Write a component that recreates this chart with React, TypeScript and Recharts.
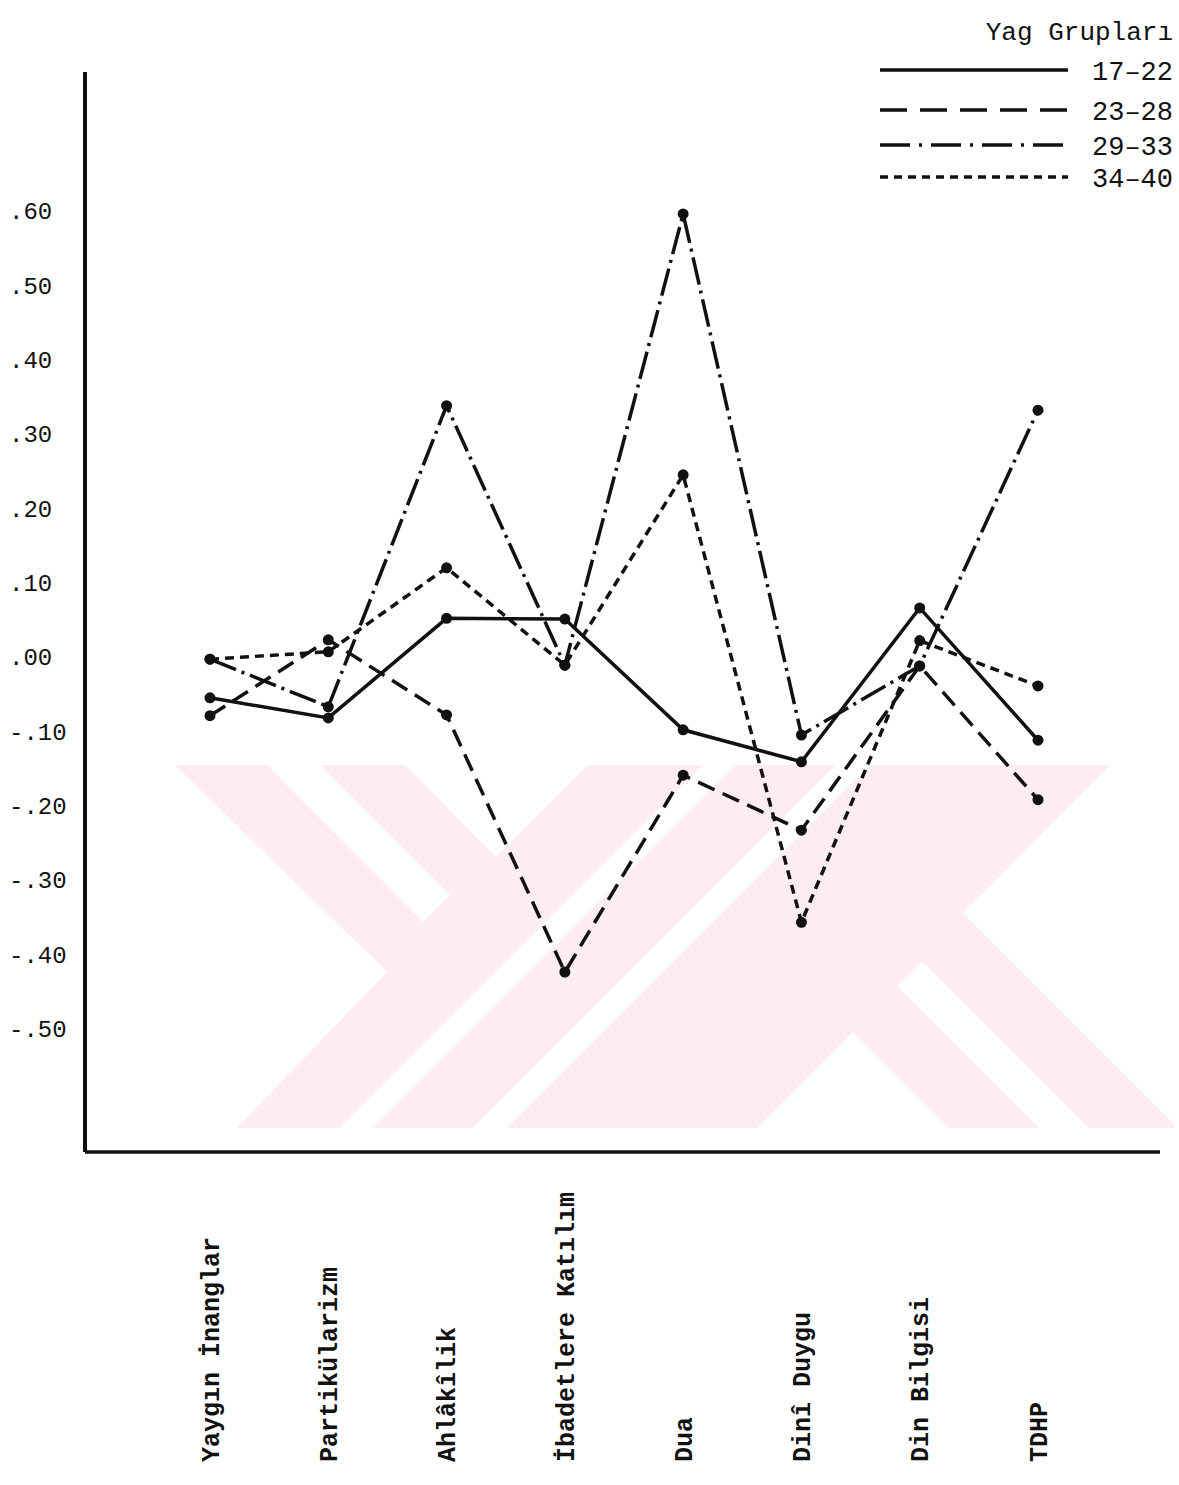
import React from 'react';
import { LineChart, Line, XAxis, YAxis } from 'recharts';

// categories (x axis, rotated)
const categories = [
  'Yaygın İnanglar',
  'Partikülarizm',
  'Ahlâkîlik',
  'İbadetlere Katılım',
  'Dua',
  'Dinî Duygu',
  'Din Bilgisi',
  'TDHP',
];

// one array per age group
const g17_22 = [-0.055, -0.082, 0.052, 0.051, -0.098, -0.141, 0.066, -0.112];
const g23_28 = [-0.079, 0.023, -0.078, -0.424, -0.159, -0.233, -0.012, -0.192];
const g29_33 = [-0.003, -0.067, 0.338, -0.011, 0.596, -0.105, -0.012, 0.332];
const g34_40 = [-0.003, 0.007, 0.12, -0.011, 0.245, -0.357, 0.022, -0.039];

const yTicks = [0.6, 0.5, 0.4, 0.3, 0.2, 0.1, 0, -0.1, -0.2, -0.3, -0.4, -0.5];
const yTickLabels = ['.60', '.50', '.40', '.30', '.20', '.10', '.00', '-.10', '-.20', '-.30', '-.40', '-.50'];

const legendTitle = 'Yag Grupları';

const series = [
  { key: 'g17_22', name: '17–22', values: g17_22, dash: undefined, legendDash: undefined },
  { key: 'g23_28', name: '23–28', values: g23_28, dash: '18 9', legendDash: '27 13' },
  { key: 'g29_33', name: '29–33', values: g29_33, dash: '28 6 3 6', legendDash: '30 9 3 9' },
  { key: 'g34_40', name: '34–40', values: g34_40, dash: '9 6', legendDash: '8 6' },
];

const data = categories.map((c, i) => {
  const row: Record<string, string | number> = { name: c };
  series.forEach((s) => {
    row[s.key] = s.values[i];
  });
  return row;
});

const FONT = '"Liberation Mono", "DejaVu Sans Mono", monospace';
const INK = '#111';

function XTick(props: any) {
  const { x, payload } = props;
  const y = 1462;
  return (
    <text
      x={x}
      y={y}
      dy="0.35em"
      transform={`rotate(-90, ${x}, ${y})`}
      textAnchor="start"
      fontFamily={FONT}
      fontSize={25}
      fontWeight="bold"
      fill={INK}
    >
      {payload.value}
    </text>
  );
}

function YTick(props: any) {
  const { y, payload } = props;
  const idx = yTicks.indexOf(payload.value);
  return (
    <text x={9} y={y} dy="0.35em" textAnchor="start" fontFamily={FONT} fontSize={24} fill={INK}>
      {idx >= 0 ? yTickLabels[idx] : ''}
    </text>
  );
}

function LegendBox() {
  const rowY = [70, 110, 145, 177];
  return (
    <svg width={1179} height={200} style={{ position: 'absolute', left: 0, top: 0 }}>
      <text x={1173} y={40} textAnchor="end" fontFamily={FONT} fontSize={26} fill={INK}>
        {legendTitle}
      </text>
      {series.map((s, i) => (
        <g key={s.key}>
          <line
            x1={880}
            x2={1068}
            y1={rowY[i]}
            y2={rowY[i]}
            stroke={INK}
            strokeWidth={3.5}
            strokeDasharray={s.legendDash}
          />
          <text x={1173} y={rowY[i] + 10} textAnchor="end" fontFamily={FONT} fontSize={27} fill={INK}>
            {s.name}
          </text>
        </g>
      ))}
    </svg>
  );
}

// faint pink watermark behind the chart
function Watermark() {
  const pink = 'rgb(253,236,240)';
  const cut = [
    '170,765 175,765 387,972 237,1128 170,1128',
    '267,765 320,765 450,895 423,922',
    '405,765 588,765 496,857',
    '340,1128 373,1128 736,765 703,765',
    '473,1128 507,1128 870,765 836,765',
    '757,1128 853,1032 949,1128',
    '897,986 922,961 1089,1128 1039,1128',
    '1110,765 1185,765 1185,1135 963,913',
  ];
  return (
    <svg width={1179} height={1485} style={{ position: 'absolute', left: 0, top: 0 }}>
      <rect x={175} y={765} width={1000} height={363} fill={pink} />
      {cut.map((p, i) => (
        <polygon key={i} points={p} fill="#fff" />
      ))}
    </svg>
  );
}

export default function App() {
  return (
    <div style={{ position: 'absolute', left: 0, top: 0, width: 1179, height: 1485, background: '#fff' }}>
      <Watermark />
      <div style={{ position: 'absolute', left: 0, top: 0 }}>
        <LineChart width={1179} height={1485} data={data} margin={{ top: 72, right: 19, bottom: 0, left: 0 }}>
          <XAxis
            dataKey="name"
            interval={0}
            height={333}
            padding={{ left: 125, right: 122 }}
            tickLine={false}
            axisLine={{ stroke: INK, strokeWidth: 3.5 }}
            tick={XTick}
          />
          <YAxis
            type="number"
            domain={[-0.666, 0.787]}
            ticks={yTicks}
            width={85}
            tickLine={false}
            axisLine={{ stroke: INK, strokeWidth: 4 }}
            tick={YTick}
          />
          {series.map((s) => (
            <Line
              key={s.key}
              dataKey={s.key}
              name={s.name}
              type="linear"
              stroke={INK}
              strokeWidth={3.5}
              strokeDasharray={s.dash}
              dot={{ r: 5.5, fill: INK, stroke: 'none', strokeWidth: 0 }}
              activeDot={false}
              isAnimationActive={false}
            />
          ))}
        </LineChart>
      </div>
      <LegendBox />
    </div>
  );
}
